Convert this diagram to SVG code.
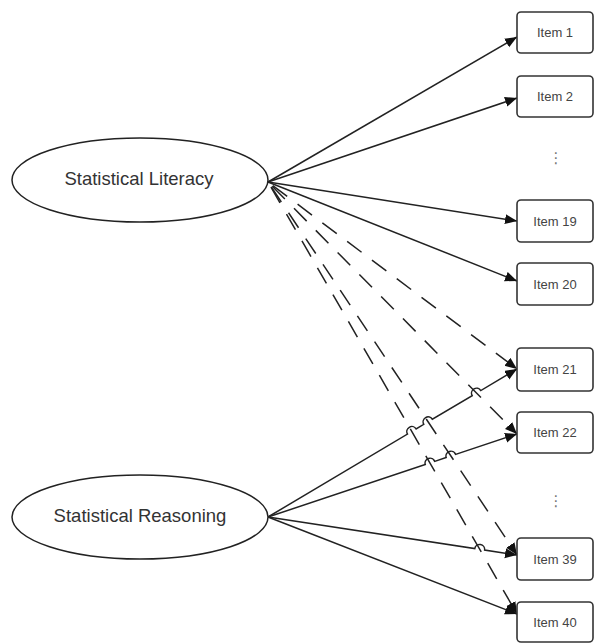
<svg xmlns="http://www.w3.org/2000/svg" width="594" height="643" viewBox="0 0 594 643">
<style>
.bg{fill:#fff}
.latent ellipse{fill:#fff;stroke:#222;stroke-width:1.5}
.latent text{font-family:"Liberation Sans",Arial,sans-serif;font-size:18.5px;fill:#333;text-anchor:middle}
.item rect{fill:#fff;stroke:#333;stroke-width:1.6}
.item text{font-family:"Liberation Sans",Arial,sans-serif;font-size:13px;fill:#444;text-anchor:middle}
.dots{font-family:"DejaVu Sans",sans-serif;font-size:15px;fill:#777;text-anchor:middle}
.edge{fill:none;stroke:#222;stroke-width:1.5;marker-end:url(#arrow)}
.dash{stroke-dasharray:18 13;stroke-dashoffset:-6}
</style>
<defs>
<marker id="arrow" markerUnits="userSpaceOnUse" markerWidth="13" markerHeight="11" refX="12" refY="5" orient="auto">
<path d="M0,0 L12,5 L0,10 z" fill="#111" stroke="none"/>
</marker>
</defs>
<rect class="bg" x="0" y="0" width="594" height="643"/>

<g id="connectors">
<path class="edge" d="M268,182 L517,37"/>
<path class="edge" d="M268,182 L517,98"/>
<path class="edge" d="M268,182 L517,221"/>
<path class="edge" d="M268,182 L517,281"/>
<path class="edge dash" d="M268,182 L517,369"/>
<path class="edge dash" d="M268,182 L517,434"/>
<path class="edge dash" d="M268,182 L517,555"/>
<path class="edge dash" d="M268,182 L517,614"/>
<path class="edge" d="M268,517 L407.5,434.05 A5,5 0 0 1 416.1,428.95 L423.8,424.35 A5,5 0 0 1 432.4,419.25 L472.2,395.65 A5,5 0 0 1 480.8,390.55 L517,369"/>
<path class="edge" d="M268,517 L425.26,464.58 A5,5 0 0 1 434.74,461.42 L446.16,457.58 A5,5 0 0 1 455.64,454.42 L517,434"/>
<path class="edge" d="M268,517 L474.76,548.55 A5,5 0 0 1 484.64,550.05 L517,555"/>
<path class="edge" d="M268,517 L517,614"/>
</g>

<g id="statistical-literacy" class="latent">
<ellipse cx="140" cy="180" rx="128" ry="42"/>
<text x="139" y="185">Statistical Literacy</text>
</g>
<g id="statistical-reasoning" class="latent">
<ellipse cx="140" cy="517" rx="128" ry="42"/>
<text x="140" y="522">Statistical Reasoning</text>
</g>

<g id="item1" class="item"><rect x="517" y="12" width="76" height="41" rx="4"/><text x="555" y="37">Item 1</text></g>
<g id="item2" class="item"><rect x="517" y="76" width="76" height="41" rx="4"/><text x="555" y="101">Item 2</text></g>
<g id="item19" class="item"><rect x="517" y="200" width="76" height="42" rx="4"/><text x="555" y="226">Item 19</text></g>
<g id="item20" class="item"><rect x="517" y="263" width="76" height="42" rx="4"/><text x="555" y="289">Item 20</text></g>
<g id="item21" class="item"><rect x="517" y="348" width="76" height="43" rx="4"/><text x="555" y="374">Item 21</text></g>
<g id="item22" class="item"><rect x="517" y="412" width="76" height="41" rx="4"/><text x="555" y="437">Item 22</text></g>
<g id="item39" class="item"><rect x="517" y="538" width="76" height="42" rx="4"/><text x="555" y="564">Item 39</text></g>
<g id="item40" class="item"><rect x="517" y="602" width="76" height="40" rx="4"/><text x="555" y="627">Item 40</text></g>

<text class="dots" x="556" y="163">⋮</text>
<text class="dots" x="556" y="506">⋮</text>
</svg>
